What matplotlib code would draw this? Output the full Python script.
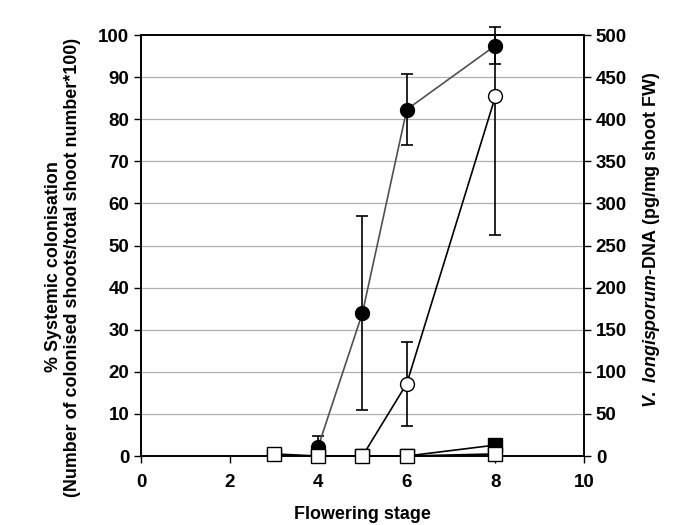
import matplotlib
matplotlib.use("Agg")
import matplotlib.pyplot as plt

plt.rcParams['font.family'] = ['Liberation Sans', 'DejaVu Sans']
plt.rcParams['mathtext.fontset'] = 'custom'
plt.rcParams['mathtext.it'] = 'Liberation Sans:italic:bold'
plt.rcParams['mathtext.rm'] = 'Liberation Sans:bold'

# Filled circles: % systemic colonisation (left axis)
fc_x = [4, 5, 6, 8]
fc_y = [2.2, 34, 82.3, 97.5]
fc_err = [2.6, 23, 8.5, 4.3]

# Open circles: V. longisporum DNA (right axis, pg/mg)
oc_x = [4, 5, 6, 8]
oc_y = [0, 0, 86, 427]
oc_err = [0, 0, 50, 165]

# Filled squares: % systemic colonisation (left axis)
fs_x = [3, 4, 5, 6, 8]
fs_y = [0, 0, 0, 0, 2.6]

# Open squares: DNA (right axis, pg/mg)
os_x = [3, 4, 5, 6, 8]
os_y = [2.5, 0, 0, 0, 2.5]

x_ticks = [0, 2, 4, 6, 8, 10]
left_ticks = list(range(0, 101, 10))
right_ticks = list(range(0, 501, 50))

TICK_FS = 13.5
LAB_FS = 12.9

fig = plt.figure(figsize=(6.85, 5.25), dpi=100)
ax = fig.add_axes([0.2058, 0.1314, 0.6467, 0.8019])
ax2 = ax.twinx()

ax.set_xlim(0, 10)
ax.set_ylim(0, 100)
ax2.set_ylim(0, 500)

for y in left_ticks[1:-1]:
    ax.axhline(y, color='#b0b0b0', lw=0.9, zorder=0)

ax.plot(fs_x, fs_y, color='black', lw=1.2, marker='s', ms=9.5,
        mfc='black', mec='black', zorder=3)
ax.errorbar(fc_x, fc_y, yerr=fc_err, color='#505050', lw=1.2, marker='o', ms=10,
            mfc='black', mec='black', ecolor='black', elinewidth=1.2,
            capsize=4.5, capthick=1.2, zorder=4, clip_on=False)

ax2.errorbar(oc_x, oc_y, yerr=oc_err, color='black', lw=1.2, marker='o', ms=10,
             mfc='white', mec='black', ecolor='black', elinewidth=1.2,
             capsize=4.5, capthick=1.2, zorder=3)
ax2.plot(os_x, os_y, color='black', lw=1.2, marker='s', ms=9.5,
         mfc='white', mec='black', zorder=5, clip_on=False)
ax2.set_zorder(ax.get_zorder() + 1)
ax2.patch.set_visible(False)

ax.set_xticks(x_ticks)
ax.set_yticks(left_ticks)
ax2.set_yticks(right_ticks)

for a in (ax, ax2):
    a.tick_params(direction='out', length=5, width=1, labelsize=TICK_FS)
    for s in a.spines.values():
        s.set_linewidth(1.2)
    for lab in a.get_xticklabels() + a.get_yticklabels():
        lab.set_fontweight('bold')
ax.tick_params(axis='x', pad=8)

ax.set_xlabel('Flowering stage', fontsize=LAB_FS, fontweight='bold', labelpad=10.5)
ax.set_ylabel('% Systemic colonisation\n(Number of colonised shoots/total shoot number*100)',
              fontsize=LAB_FS, fontweight='bold', labelpad=12, linespacing=1.15)
ax.yaxis.label.set_y(0.449)
ax2.set_ylabel(r'$\it{V.\ longisporum}$-DNA (pg/mg shoot FW)',
               fontsize=LAB_FS, fontweight='bold', labelpad=10)
ax2.yaxis.label.set_y(0.513)

fig.savefig('out.png', dpi=100)
